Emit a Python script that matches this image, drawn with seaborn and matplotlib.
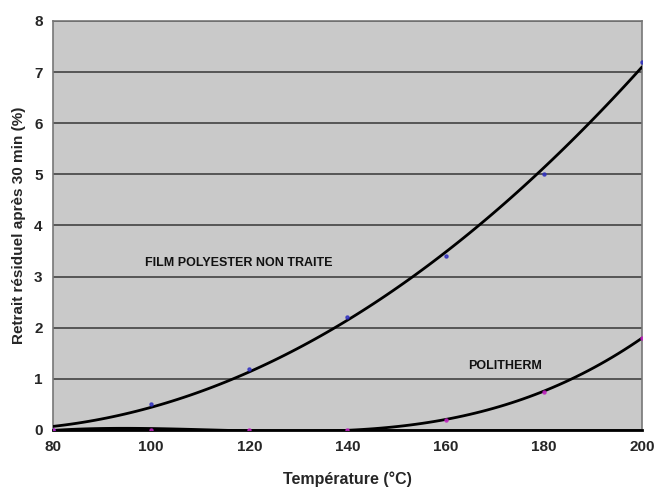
from matplotlib import pyplot as plt
import numpy as np
import pandas as pd
import seaborn as sb

temp=[80,100,120,140,160,180,200]
film=[0.0,0.5,1.2,2.2,3.4,5.0,7.2]
politherm=[0.0,0.0,0.0,0.0,0.2,0.75,1.8]
xticks=[80,100,120,140,160,180,200]
yticks=[0,1,2,3,4,5,6,7,8]

sb.set_style("white")
plt.rcParams['font.family']=['Liberation Sans','DejaVu Sans']

data=pd.DataFrame({"temp":temp,"film":film,"politherm":politherm})

fig=plt.figure(figsize=(6.55,4.88),dpi=100)
ax=fig.add_axes([0.081,0.119,0.899,0.838])
ax.set_facecolor("#c9c9c9")

#gridlines
for y in yticks:
    ax.axhline(y,color="#555555",lw=1.4,zorder=1)

#trend lines (polynomial, like the excel trendline)
sb.regplot(data=data,x="temp",y="film",order=2,ci=None,ax=ax,
           scatter_kws=dict(s=5,color="#3030c0",zorder=4),
           line_kws=dict(color="black",lw=2,zorder=3))
sb.regplot(data=data,x="temp",y="politherm",order=3,ci=None,ax=ax,
           scatter_kws=dict(s=5,color="#c020c0",zorder=4),
           line_kws=dict(color="black",lw=2,zorder=3))

ax.set_xlim(80,200)
ax.set_ylim(0,8)
ax.set_xticks(xticks)
ax.set_yticks(yticks)
ax.tick_params(axis="both",labelsize=11,length=4,width=1.5,color="black")
for lab in ax.get_xticklabels()+ax.get_yticklabels():
    lab.set_fontweight("bold")
ax.tick_params(axis="y",length=4,color="#555555",width=1.2)

for s in ["top","right","left"]:
    ax.spines[s].set_color("#777777")
    ax.spines[s].set_linewidth(1.2)
ax.spines["bottom"].set_color("black")
ax.spines["bottom"].set_linewidth(2)

ax.set_xlabel("Température (°C)",fontsize=11.5,fontweight="bold",labelpad=12)
ax.set_ylabel("Retrait résiduel après 30 min (%)",fontsize=11,fontweight="bold",labelpad=6)

ax.text(98.7,3.27,"FILM POLYESTER NON TRAITE",fontsize=9,fontweight="bold",va="center",color="#111111")
ax.text(164.5,1.25,"POLITHERM",fontsize=9,fontweight="bold",va="center",color="#111111")

fig.savefig("out.png",dpi=100)
